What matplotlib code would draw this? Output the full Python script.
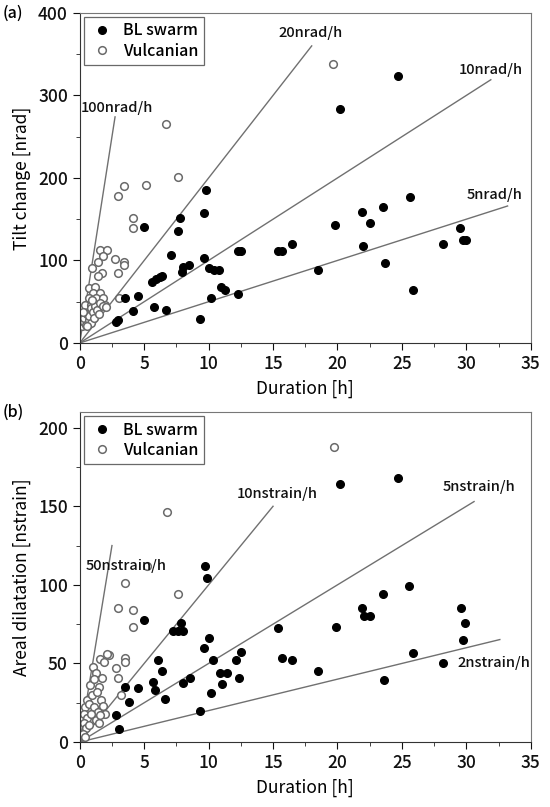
import numpy as np
import matplotlib
matplotlib.use('Agg')
import matplotlib.pyplot as plt
from matplotlib.ticker import MultipleLocator

plt.rcParams['font.family'] = ['Noto Sans CJK JP', 'DejaVu Sans']
plt.rcParams['font.weight'] = 'medium'

# ---- (a) tilt change ----
bl_dur_a = [2.8, 2.95, 3.5, 4.1, 4.5, 5.0, 5.6, 5.9, 6.2, 6.4, 5.8, 6.7, 7.1, 7.6, 7.8,
            8.0, 8.5, 7.95, 9.3, 9.65, 9.8, 9.65, 10.0, 10.4, 10.8, 10.15, 11.0, 11.3,
            12.3, 12.25, 12.5, 15.4, 15.7, 16.5, 18.5, 19.8, 20.2, 21.9, 22.0, 22.5,
            23.5, 23.7, 24.7, 25.6, 25.9, 28.2, 29.5, 29.75, 29.95]
bl_tilt_a = [25, 27.5, 54, 39, 57, 140, 73.5, 78, 80.5, 81, 43, 40, 107, 136, 151.5,
             92, 94, 86, 29.5, 103, 185, 157.5, 91, 89, 89, 55, 67.5, 64.5,
             59, 112, 112, 111.5, 111.5, 120, 88, 142.5, 283, 159, 117, 146,
             165, 96.5, 323, 177, 64, 120, 139, 125, 125]

vu_dur_a = [3.05, 2.75, 2.95, 3.45, 3.45, 2.95, 3.45, 5.15, 4.1, 4.1, 7.65, 6.7, 19.65,
            1.6, 2.15, 1.8, 1.45, 0.98, 1.75, 1.45, 0.75, 1.15, 1.03, 1.55, 0.72, 1.29,
            1.81, 0.4, 0.9, 1.42, 1.94, 0.2, 0.3, 0.35, 0.5, 0.55, 0.7, 0.75, 0.9,
            0.85, 1.0, 1.1, 1.2, 1.35, 1.5, 1.6, 1.8, 2.05, 0.95, 0.25, 0.6]
vu_tilt_a = [54, 102, 84.5, 98.5, 94.5, 178, 190, 191, 151.5, 139, 201, 265, 338.5,
             112.5, 112.5, 105, 98.5, 91, 85, 81, 67, 68, 60, 60, 55, 55,
             55, 46, 46, 46, 46, 20, 25, 30, 22, 35, 28, 33, 24,
             42, 37, 30, 45, 40, 35, 48, 45, 43, 52, 37, 20]

# ---- (b) areal dilatation ----
bl_dur_b = [9.7, 9.85, 5.0, 7.85, 7.2, 7.6, 8.05, 10.0, 9.65, 10.35, 12.55, 12.15, 6.05,
            6.35, 10.85, 11.4, 11.05, 12.35, 8.55, 8.0, 5.65, 5.85, 3.5, 4.55, 6.65,
            3.85, 10.15, 9.3, 2.85, 3.05, 20.2, 24.7, 25.55, 23.55, 21.9, 22.05, 22.55,
            15.4, 19.85, 15.7, 16.5, 18.5, 23.65, 29.55, 29.9, 29.75, 25.85, 28.2]
bl_dil_b = [112, 104.5, 77.5, 76, 70.5, 70.5, 70.5, 66.5, 60, 52, 57.5, 52, 52,
            45, 44, 44, 37, 41, 40.5, 37.5, 38, 33, 35, 34.5, 27.5,
            25.5, 31, 19.5, 17.5, 8.5, 164, 168, 99.5, 94, 85.5, 80.5, 80,
            72.5, 73, 53.5, 52.5, 45, 39.5, 85, 76, 65, 56.5, 50.5]

vu_dur_b = [5.2, 3.5, 7.65, 2.95, 4.15, 4.15, 3.5, 3.5, 2.85, 2.95, 3.2, 2.3, 6.75, 19.7,
            0.99, 1.55, 2.15, 1.9, 1.25, 1.7, 0.8, 1.1, 1.5, 0.55, 0.95, 1.3, 1.65,
            0.4, 0.75, 1.1, 1.45, 1.8, 0.35, 0.6, 0.9, 1.25, 1.5, 0.3, 0.5, 0.25,
            0.4, 0.7, 1.95, 1.6]
vu_dil_b = [112, 101, 94, 85.5, 84, 73, 53.5, 51, 47, 41, 30, 55.5, 146.5, 188,
            48, 53, 56, 51, 44, 41, 36, 40, 35, 27, 30, 32, 27,
            22, 24, 22, 19, 23, 18, 15, 18, 14, 12, 12, 9, 5,
            3, 11, 18, 17]

# reference rate lines: rate, end duration, label x, label y
rates_a = [100, 20, 10, 5]
rate_end_a = [2.74, 18.0, 31.9, 33.2]
rate_lab_a = ['100nrad/h', '20nrad/h', '10nrad/h', '5nrad/h']
lab_x_a = [2.9, 17.9, 31.9, 32.2]
lab_y_a = [285, 376, 331, 179]

rates_b = [50, 10, 5, 2]
rate_end_b = [2.5, 15.0, 30.6, 32.6]
rate_lab_b = ['50nstrain/h', '10nstrain/h', '5nstrain/h', '2nstrain/h']
lab_x_b = [3.6, 15.3, 31.0, 32.1]
lab_y_b = [112, 158, 162, 50]

fig = plt.figure(figsize=(5.5, 8.07), dpi=100)
ax_a = fig.add_axes([0.145, 0.575, 0.82, 0.409])
ax_b = fig.add_axes([0.145, 0.0805, 0.82, 0.409])


def draw(ax, bl_x, bl_y, vu_x, vu_y, rates, ends, labs, lx, ly, ymax, ymaj, ymin, ylab, tag):
    for r, e, t, x, y in zip(rates, ends, labs, lx, ly):
        ax.plot([0, e], [0, r * e], color='#707070', lw=1.0, zorder=1)
        ax.text(x, y, t, ha='center', va='center', fontsize=10.5, color='#111111')
    ax.plot(bl_x, bl_y, 'o', ms=5.5, mfc='black', mec='black', label='BL swarm', zorder=3)
    ax.plot(vu_x, vu_y, 'o', ms=5.5, mfc='white', mec='#6a6a6a', mew=1.1,
            label='Vulcanian', zorder=2)
    ax.set_xlim(0, 35)
    ax.set_ylim(0, ymax)
    ax.xaxis.set_major_locator(MultipleLocator(5))
    ax.xaxis.set_minor_locator(MultipleLocator(2.5))
    ax.yaxis.set_major_locator(MultipleLocator(ymaj))
    ax.yaxis.set_minor_locator(MultipleLocator(ymin))
    ax.tick_params(which='major', direction='out', length=5, labelsize=12.5, colors='#111111')
    ax.tick_params(which='minor', direction='out', length=3, color='#222222')
    for s in ax.spines.values():
        s.set_color('#777777')
    ax.spines['left'].set_color('#333333')
    ax.spines['bottom'].set_color('#333333')
    ax.set_xlabel('Duration [h]', fontsize=12.5, labelpad=5)
    ax.set_ylabel(ylab, fontsize=12.5, labelpad=5)
    leg = ax.legend(loc='upper left', fontsize=11.5, frameon=True, fancybox=False,
                    borderaxespad=0.25, handletextpad=0.5, borderpad=0.35,
                    labelspacing=0.2, handlelength=1.6)
    leg.get_frame().set_edgecolor('#444444')
    leg.get_frame().set_linewidth(0.9)
    ax.text(-0.17, 1.0, tag, transform=ax.transAxes, fontsize=11.5, ha='left', va='center')


draw(ax_a, bl_dur_a, bl_tilt_a, vu_dur_a, vu_tilt_a, rates_a, rate_end_a, rate_lab_a,
     lab_x_a, lab_y_a, 400, 100, 50, 'Tilt change [nrad]', '(a)')
draw(ax_b, bl_dur_b, bl_dil_b, vu_dur_b, vu_dil_b, rates_b, rate_end_b, rate_lab_b,
     lab_x_b, lab_y_b, 210, 50, 25, 'Areal dilatation [nstrain]', '(b)')
ax_b.texts[3].set_ha('left')
ax_b.texts[3].set_x(29.3)

fig.savefig('out.png', dpi=100)
